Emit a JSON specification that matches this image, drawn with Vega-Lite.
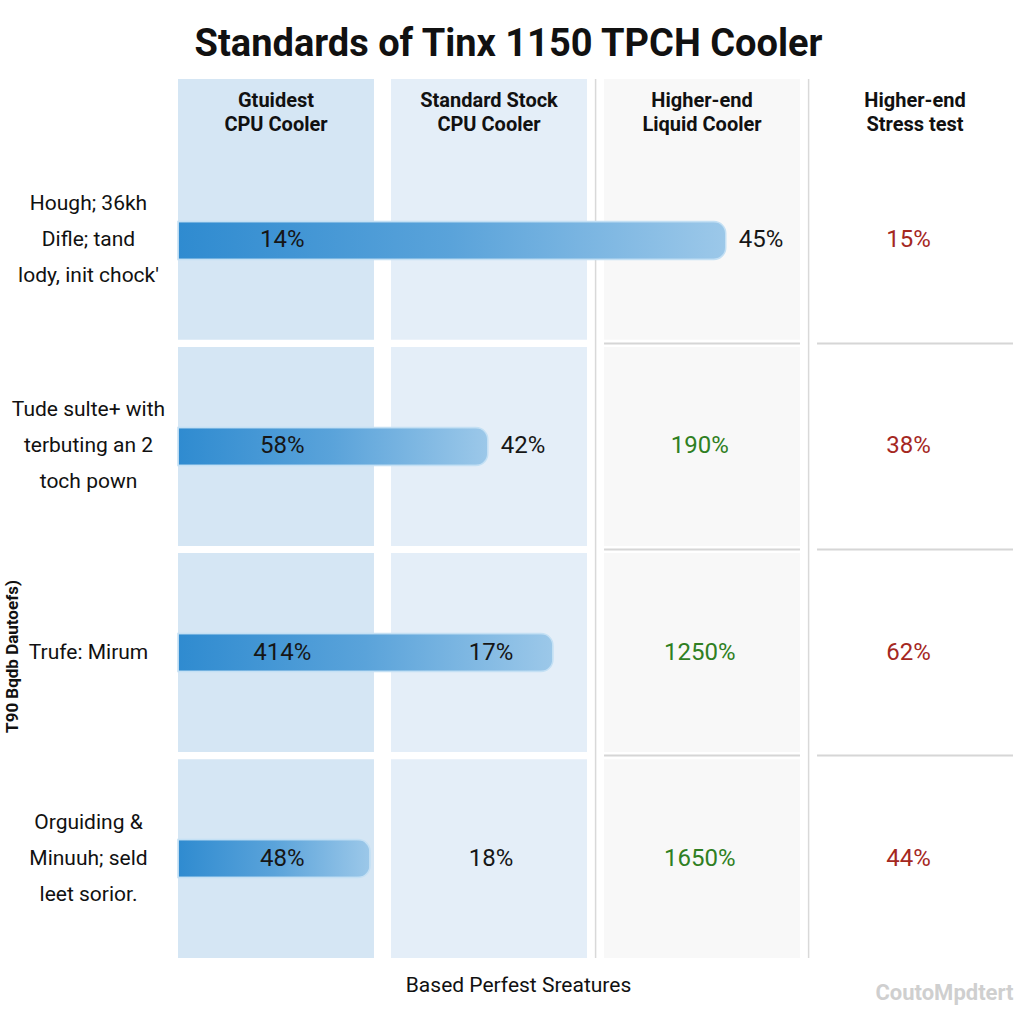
{
  "$schema": "https://vega.github.io/schema/vega-lite/v6.json",
  "padding": {"left": 3, "top": 26, "right": 8, "bottom": 5},
  "background": "#ffffff",
  "title": {"text": "Standards of Tinx 1150 TPCH Cooler", "font": "Roboto", "fontSize": 38, "fontWeight": "bold", "color": "#111111", "anchor": "middle", "offset": 14},
  "datasets": {
    "cols": [
      {"col": "Gtuidest|CPU Cooler"},
      {"col": "Standard Stock|CPU Cooler"},
      {"col": "Higher-end|Liquid Cooler"},
      {"col": "Higher-end|Stress test"}
    ],
    "cells": [
      {"row": "Hough; 36kh|Difle; tand|lody, init chock'", "col": "Gtuidest|CPU Cooler", "label": "14%", "kind": "base"},
      {"row": "Hough; 36kh|Difle; tand|lody, init chock'", "col": "Standard Stock|CPU Cooler", "label": "", "kind": "base"},
      {"row": "Hough; 36kh|Difle; tand|lody, init chock'", "col": "Higher-end|Liquid Cooler", "label": "", "kind": "gain"},
      {"row": "Hough; 36kh|Difle; tand|lody, init chock'", "col": "Higher-end|Stress test", "label": "15%", "kind": "stress"},
      {"row": "Tude sulte+ with|terbuting an 2|toch pown", "col": "Gtuidest|CPU Cooler", "label": "58%", "kind": "base"},
      {"row": "Tude sulte+ with|terbuting an 2|toch pown", "col": "Standard Stock|CPU Cooler", "label": "", "kind": "base"},
      {"row": "Tude sulte+ with|terbuting an 2|toch pown", "col": "Higher-end|Liquid Cooler", "label": "190%", "kind": "gain"},
      {"row": "Tude sulte+ with|terbuting an 2|toch pown", "col": "Higher-end|Stress test", "label": "38%", "kind": "stress"},
      {"row": "Trufe: Mirum", "col": "Gtuidest|CPU Cooler", "label": "414%", "kind": "base"},
      {"row": "Trufe: Mirum", "col": "Standard Stock|CPU Cooler", "label": "17%", "kind": "base"},
      {"row": "Trufe: Mirum", "col": "Higher-end|Liquid Cooler", "label": "1250%", "kind": "gain"},
      {"row": "Trufe: Mirum", "col": "Higher-end|Stress test", "label": "62%", "kind": "stress"},
      {"row": "Orguiding &|Minuuh; seld|leet sorior.", "col": "Gtuidest|CPU Cooler", "label": "48%", "kind": "base"},
      {"row": "Orguiding &|Minuuh; seld|leet sorior.", "col": "Standard Stock|CPU Cooler", "label": "18%", "kind": "base"},
      {"row": "Orguiding &|Minuuh; seld|leet sorior.", "col": "Higher-end|Liquid Cooler", "label": "1650%", "kind": "gain"},
      {"row": "Orguiding &|Minuuh; seld|leet sorior.", "col": "Higher-end|Stress test", "label": "44%", "kind": "stress"}
    ],
    "bars": [
      {"row": "Hough; 36kh|Difle; tand|lody, init chock'", "length": 65.6, "end_label": "45%"},
      {"row": "Tude sulte+ with|terbuting an 2|toch pown", "length": 37.1, "end_label": "42%"},
      {"row": "Trufe: Mirum", "length": 44.9, "end_label": ""},
      {"row": "Orguiding &|Minuuh; seld|leet sorior.", "length": 23.0, "end_label": ""}
    ]
  },
  "vconcat": [
    {
      "width": 835,
      "height": 62,
      "data": {"name": "cols"},
      "layer": [
        {
          "mark": {"type": "rect"},
          "encoding": {
            "x": {"field": "col", "type": "nominal", "axis": null, "sort": null,
                  "scale": {"domain": ["Gtuidest|CPU Cooler", "Standard Stock|CPU Cooler", "Higher-end|Liquid Cooler", "Higher-end|Stress test"], "paddingInner": 0.08, "paddingOuter": 0}},
            "fill": {"field": "col", "type": "nominal", "legend": null,
                      "scale": {"domain": ["Gtuidest|CPU Cooler", "Standard Stock|CPU Cooler", "Higher-end|Liquid Cooler", "Higher-end|Stress test"], "range": ["#d5e6f4", "#e4eef8", "#f8f8f8", "#ffffff"]}}
          }
        },
        {
          "transform": [{"filter": "indexof(datum.col, 'Higher-end') == 0"}],
          "mark": {"type": "rule", "color": "#d9d9d9", "strokeWidth": 1.5},
          "encoding": {
            "x": {"field": "col", "type": "nominal", "bandPosition": -0.043}
          }
        },
        {
          "mark": {"type": "text", "font": "Roboto", "fontSize": 20, "fontWeight": "bold", "color": "#111111", "lineBreak": "|", "lineHeight": 24, "baseline": "middle", "dy": -9},
          "encoding": {
            "x": {"field": "col", "type": "nominal"},
            "text": {"field": "col", "type": "nominal"}
          }
        }
      ]
    },
    {
      "width": 835,
      "height": 817,
      "layer": [
        {
          "layer": [
            {
              "data": {"name": "cells"},
              "mark": {"type": "rect"},
              "encoding": {
                "x": {"field": "col", "type": "nominal", "sort": null,
                      "scale": {"domain": ["Gtuidest|CPU Cooler", "Standard Stock|CPU Cooler", "Higher-end|Liquid Cooler", "Higher-end|Stress test"], "paddingInner": 0.08, "paddingOuter": 0},
                      "axis": {"orient": "bottom", "labels": false, "ticks": false, "domain": false, "title": "Based Perfest Sreatures", "titleFont": "Roboto", "titleFontSize": 21, "titleFontWeight": "normal", "titleColor": "#111111", "titlePadding": 16, "titleX": 340}},
                "y": {"field": "row", "type": "nominal", "sort": null,
                      "scale": {"domain": ["Hough; 36kh|Difle; tand|lody, init chock'", "Tude sulte+ with|terbuting an 2|toch pown", "Trufe: Mirum", "Orguiding &|Minuuh; seld|leet sorior."], "paddingInner": 0.035, "paddingOuter": 0},
                      "axis": {"labelExpr": "length(split(datum.value, '|')) == 1 ? ['', datum.value] : split(datum.value, '|')", "labelOffset": -36, "labelFont": "Roboto", "labelFontSize": 21, "labelColor": "#111111", "labelAlign": "center", "labelBaseline": "middle", "labelPadding": 90, "labelLineHeight": 36, "labelLimit": 300, "ticks": false, "domain": false,
                               "title": "T90 Bqdb Dautoefs)", "titleFont": "Roboto", "titleFontSize": 17, "titleFontWeight": "bold", "titleColor": "#111111", "titleX": -166, "titleY": 515, "titleAlign": "center", "titleBaseline": "middle"}},
                "fill": {"field": "col", "type": "nominal", "legend": null}
              }
            },
            {
              "data": {"name": "cells"},
              "transform": [{"filter": "indexof(datum.col, 'Higher-end') == 0 && indexof(datum.row, 'Hough') != 0"}],
              "mark": {"type": "rule", "color": "#d6d6d6", "strokeWidth": 2},
              "encoding": {
                "x": {"field": "col", "type": "nominal", "bandPosition": 0},
                "x2": {"field": "col", "bandPosition": 1},
                "y": {"field": "row", "type": "nominal", "bandPosition": -0.018}
              }
            },
            {
              "data": {"name": "cols"},
              "transform": [{"filter": "indexof(datum.col, 'Higher-end') == 0"}],
              "mark": {"type": "rule", "color": "#d9d9d9", "strokeWidth": 1.5},
              "encoding": {
                "x": {"field": "col", "type": "nominal", "bandPosition": -0.043}
              }
            }
          ]
        },
        {
          "data": {"name": "bars"},
          "layer": [
            {
              "mark": {"type": "bar", "height": 38, "cornerRadiusEnd": 12, "stroke": "#c4e0f4", "strokeWidth": 1.5,
                       "color": {"gradient": "linear", "x1": 0, "x2": 1, "y1": 0, "y2": 0,
                                 "stops": [{"offset": 0, "color": "#2f8bd0"}, {"offset": 0.5, "color": "#5aa3da"}, {"offset": 1, "color": "#9cc8e9"}]}},
              "encoding": {
                "x": {"field": "length", "type": "quantitative", "scale": {"domain": [0, 100], "nice": false},
                      "axis": {"orient": "bottom", "labels": false, "ticks": false, "domain": false, "grid": false, "title": "CoutoMpdtert", "titleFont": "Roboto", "titleFontSize": 22, "titleFontWeight": "bold", "titleColor": "#cfcfcf", "titleAnchor": "end", "titlePadding": 24}},
                "y": {"field": "row", "type": "nominal"}
              }
            },
            {
              "transform": [{"filter": "datum.end_label != ''"}],
              "mark": {"type": "text", "font": "Roboto", "fontSize": 24, "align": "left", "baseline": "middle", "dx": 13, "color": "#161616"},
              "encoding": {
                "x": {"field": "length", "type": "quantitative"},
                "y": {"field": "row", "type": "nominal"},
                "text": {"field": "end_label", "type": "nominal"}
              }
            }
          ]
        },
        {
          "data": {"name": "cells"},
          "transform": [{"filter": "datum.label != ''"}],
          "mark": {"type": "text", "font": "Roboto", "fontSize": 24, "baseline": "middle"},
          "encoding": {
            "x": {"field": "col", "type": "nominal", "axis": null, "sort": null,
                  "scale": {"domain": ["Gtuidest|CPU Cooler", "Standard Stock|CPU Cooler", "Higher-end|Liquid Cooler", "Higher-end|Stress test"], "paddingInner": 0.08, "paddingOuter": 0}},
            "y": {"field": "row", "type": "nominal"},
            "text": {"field": "label", "type": "nominal"},
            "color": {"field": "kind", "type": "nominal", "legend": null,
                      "scale": {"domain": ["base", "gain", "stress"], "range": ["#161616", "#2f7f22", "#a5281f"]}}
          }
        }
      ],
      "resolve": {"scale": {"x": "independent"}, "axis": {"x": "independent"}}
    }
  ],
  "spacing": 0,
  "bounds": "flush",
  "config": {"view": {"stroke": null}}
}
